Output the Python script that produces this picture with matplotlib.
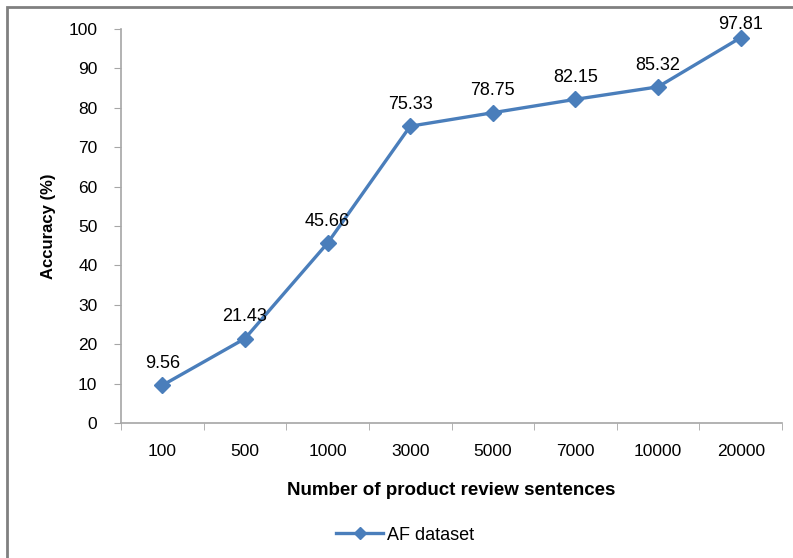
import matplotlib.pyplot as plt
from matplotlib.lines import Line2D
from matplotlib.patches import Rectangle

plt.rcParams['font.family'] = ['Liberation Sans', 'DejaVu Sans']

sizes = ['100', '500', '1000', '3000', '5000', '7000', '10000', '20000']
accuracy = [9.56, 21.43, 45.66, 75.33, 78.75, 82.15, 85.32, 97.81]
yticks = list(range(0, 101, 10))

blue = '#4A7EBB'
grey = '#A6A6A6'

fig = plt.figure(figsize=(7.93, 5.58), dpi=100)
W, H = 793, 558
ax = fig.add_axes([121 / W, 1 - 423 / H, (782 - 121) / W, (423 - 29) / H])

x = list(range(len(sizes)))
ax.plot(x, accuracy, color=blue, lw=2.4, marker='D', ms=8, mec=blue, mfc=blue,
        solid_joinstyle='round')
# value labels sit above each point, kept inside the plot area
for xi, v in zip(x, accuracy):
    ax.text(xi, min(v + 4.4, 100), f'{v:.2f}', ha='center', va='baseline',
            fontsize=13, clip_on=False)

ax.set_xlim(-0.5, len(sizes) - 0.5)
ax.set_ylim(0, 100)
ax.set_yticks(yticks)
ax.set_xticks(x)
ax.set_xticklabels(sizes)
ax.set_xticks([i - 0.5 for i in range(len(sizes) + 1)], minor=True)
ax.tick_params(axis='x', which='major', length=0, pad=15, labelsize=12.5)
ax.tick_params(axis='x', which='minor', length=5, color=grey, direction='out')
ax.tick_params(axis='y', length=5, color=grey, direction='out', pad=12, labelsize=12.5)

for s in ['top', 'right']:
    ax.spines[s].set_visible(False)
for s in ['left', 'bottom']:
    ax.spines[s].set_color(grey)
    ax.spines[s].set_linewidth(1.2)

ax.set_ylabel('Accuracy (%)', fontsize=12, fontweight='bold', labelpad=9)
ax.set_xlabel('Number of product review sentences', fontsize=13.5,
              fontweight='bold', labelpad=17)

# chart frame, cut off on the right and bottom
fig.patches.append(Rectangle((7 / W, -0.1), 1.2, 1.1 - 7 / H, transform=fig.transFigure,
                             fill=False, ec='#808080', lw=2))

handle = Line2D([], [], color=blue, lw=2.4, marker='D', ms=6, mfc=blue, mec=blue)
fig.legend([handle], ['AF dataset'], loc='center', bbox_to_anchor=(405 / W, 1 - 535 / H),
           frameon=False, fontsize=13, handlelength=2.6, handletextpad=0.2)

fig.savefig('out.png', dpi=100)
